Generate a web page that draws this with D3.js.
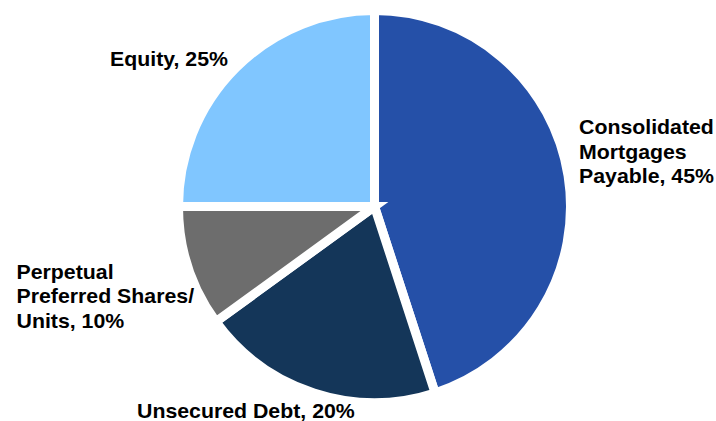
<!DOCTYPE html>
<html>
<head>
<meta charset="utf-8">
<script src="https://cdn.jsdelivr.net/npm/d3@7"></script>
<style>
  html, body { margin: 0; padding: 0; background: #fff; }
  svg { display: block; }
  text { font-family: "Liberation Sans", Arial, Helvetica, sans-serif; font-weight: bold; fill: #000; }
</style>
</head>
<body>
<svg id="chart" width="716" height="421"></svg>
<script>
// ---- data ----
const categories = ["Consolidated Mortgages Payable", "Unsecured Debt", "Perpetual Preferred Shares/ Units", "Equity"];
const values = [45, 20, 10, 25];
const labelLines = [
  ["Consolidated", "Mortgages", "Payable, 45%"],
  ["Unsecured Debt, 20%"],
  ["Perpetual", "Preferred Shares/", "Units, 10%"],
  ["Equity, 25%"]
];
const colors = ["#2550A8", "#143659", "#6D6D6D", "#80C6FF"];

// ---- layout ----
const W = 716, H = 421;
const cx = 374.5, cy = 206.5, R = 196;
const gap = 9;
const fontSize = 20, stretch = 1.065, lineH = 24.7;
// label anchor (left x, first baseline y) per slice
const labelPos = [[579, 134], [137, 418], [16.5, 278.5], [110, 66]];

const svg = d3.select("#chart");
const g = svg.append("g").attr("transform", `translate(${cx},${cy})`);

const pie = d3.pie().sort(null).value(d => d).startAngle(0).endAngle(2 * Math.PI);
const arc = d3.arc().innerRadius(0).outerRadius(R);
const arcs = pie(values);

const color = d3.scaleOrdinal().domain(categories).range(colors);

g.selectAll("path.slice")
  .data(arcs)
  .join("path")
  .attr("class", "slice")
  .attr("d", arc)
  .attr("fill", (d, i) => color(categories[i]))
  .attr("stroke", "#fff")
  .attr("stroke-width", gap)
  .attr("stroke-linejoin", "miter");

const labels = svg.selectAll("g.label")
  .data(arcs)
  .join("g")
  .attr("class", "label")
  .attr("transform", (d, i) => `translate(${labelPos[i][0]},${labelPos[i][1]}) scale(${stretch},1)`);

labels.append("text")
  .attr("font-size", fontSize)
  .selectAll("tspan")
  .data((d, i) => labelLines[i])
  .join("tspan")
  .attr("x", 0)
  .attr("y", (t, j) => j * lineH)
  .text(t => t);
</script>
</body>
</html>
